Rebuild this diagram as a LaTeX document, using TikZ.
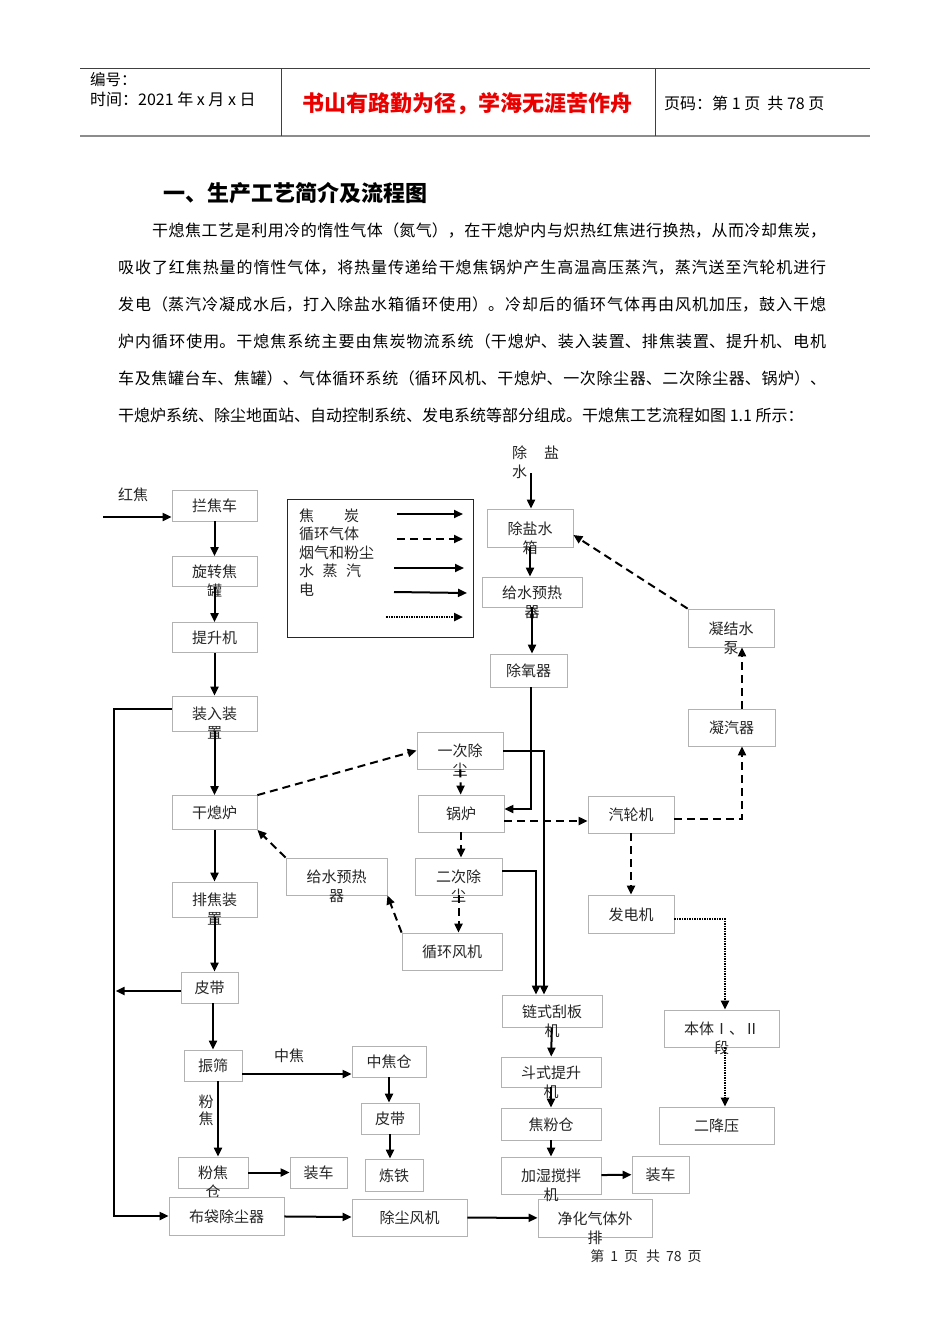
\documentclass[tikz,border=0pt]{standalone}
\usepackage{fontspec}
\setmainfont{Noto Sans CJK SC}
\usepackage{xcolor}
\usepackage{tikz}
\usetikzlibrary{shapes.geometric, arrows.meta}
\XeTeXlinebreaklocale "zh"
\XeTeXlinebreakskip=0pt plus 3pt
\definecolor{mottored}{RGB}{235,0,0}

\tikzstyle{box} = [rectangle,
draw=black!30,
line width=0.8pt,
inner sep=0pt,
text height=12pt,
text depth=0pt,
minimum width=86pt,
minimum height=37pt,
text=black!85,
font=\fontsize{15pt}{19pt}\selectfont]
\tikzstyle{lbl} = [inner sep=0pt,
text=black!85,
font=\fontsize{15pt}{17pt}\selectfont]
\tikzstyle{hdr} = [inner sep=0pt, anchor=west,
font=\fontsize{15.5pt}{18pt}\selectfont]
\tikzstyle{rule} = [black!75, line width=0.8pt]
\tikzstyle{arrow} = [line width=2pt,->,>={Triangle[length=9pt,width=8pt]}]
\tikzstyle{gas} = [arrow, dash pattern=on 8pt off 5pt]
\tikzstyle{power} = [arrow, line width=2.4pt, dash pattern=on 1.5pt off 1pt]

\newcommand{\twoline}[2]{\begin{tabular}[t]{@{}c@{}}#1\\#2\end{tabular}}

\begin{document}
\begin{tikzpicture}[x=1pt, y=-1pt, node distance=66pt]
\fill [white] (0,0) rectangle (950,1344);
\useasboundingbox (0,0) rectangle (950,1344);

% Page head
\draw [rule] (80,68) -- (870,68);
\draw [black!45, line width=1.8pt] (80,136) -- (870,136);
\draw [rule] (281,68) -- (281,136);
\draw [rule] (655,68) -- (655,136);
\node (bianhao) [hdr] at (90,80) {编号：};
\node (shijian) [hdr, font=\fontsize{16pt}{18pt}\selectfont] at (90,99) {时间：2021 年 x 月 x 日};
\node (motto) [inner sep=0pt, text=mottored, font=\fontsize{22pt}{26pt}\selectfont\bfseries] at (467.5,104) {书山有路勤为径，学海无涯苦作舟};
\node (yema) [hdr, font=\fontsize{16pt}{18pt}\selectfont] at (664,103) {页码：第 1 页 \ 共 78 页};

% Heading and text
\node (heading) [inner sep=0pt, anchor=west, font=\fontsize{22pt}{26pt}\selectfont\bfseries] at (163,193) {一、生产工艺简介及流程图};
\node (intro) [inner sep=0pt, anchor=north west, text width=708pt, align=justify,
  font=\fontsize{16pt}{37pt}\selectfont] at (118,223) {%
\hspace*{34pt}干熄焦工艺是利用冷的惰性气体（氮气），在干熄炉内与炽热红焦进行换热，从而冷却焦炭，\linebreak
吸收了红焦热量的惰性气体，将热量传递给干熄焦锅炉产生高温高压蒸汽，蒸汽送至汽轮机进行\linebreak
发电（蒸汽冷凝成水后，打入除盐水箱循环使用）。冷却后的循环气体再由风机加压，鼓入干熄\linebreak
炉内循环使用。干熄焦系统主要由焦炭物流系统（干熄炉、装入装置、排焦装置、提升机、电机\linebreak
车及焦罐台车、焦罐）、气体循环系统（循环风机、干熄炉、一次除尘器、二次除尘器、锅炉）、\linebreak
干熄炉系统、除尘地面站、自动控制系统、发电系统等部分组成。干熄焦工艺流程如图 1.1 所示：};

% Legend
\node (legend) [draw=black!85, line width=0.9pt, minimum width=186pt, minimum height=138pt, inner sep=0pt] at (380,568) {};
\node (legendtxt) [lbl, align=left, anchor=north west, font=\fontsize{15pt}{18.5pt}\selectfont] at (299,508.5)
  {焦　　炭\\循环气体\\烟气和粉尘\\水\hspace{8.5pt}蒸\hspace{8.5pt}汽\\电};
\coordinate (k1a) at (397,514); \coordinate (k1b) at (463,514);
\coordinate (k2a) at (397,539); \coordinate (k2b) at (463,539);
\coordinate (k3a) at (394,568); \coordinate (k3b) at (464,568);
\coordinate (k4a) at (394,592); \coordinate (k4b) at (467,593);
\coordinate (k5a) at (386,617); \coordinate (k5b) at (463,617);

% Nodes: coke line
\node (hongjiao) [lbl] at (133,495) {红焦};
\coordinate (hjin) at (103,517);
\node (lanjiao) [box, minimum width=85pt, minimum height=31pt] at (214.5,505.5) {拦焦车};
\node (xuanzhuan) [box, minimum width=85pt, minimum height=30pt, below of=lanjiao] {\twoline{旋转焦}{罐}};
\node (tisheng) [box, minimum width=85pt, minimum height=30pt, below of=xuanzhuan] {提升机};
\node (zhuangru) [box, minimum width=85pt, minimum height=35pt, below of=tisheng, yshift=-10pt] {\twoline{装入装}{置}};
\node (ganxilu) [box, minimum width=85pt, minimum height=34pt, below of=zhuangru, yshift=-33pt] {干熄炉};
\node (paijiao) [box, minimum width=85pt, minimum height=35pt, below of=ganxilu, yshift=-21pt] {\twoline{排焦装}{置}};
\node (pidai1) [box, minimum width=57pt, minimum height=31pt, below of=paijiao, xshift=-5pt, yshift=-22pt] {皮带};
\node (zhenshai) [box, minimum width=58pt, minimum height=31pt, below of=pidai1, xshift=3.5pt, yshift=-12pt] {振筛};
\node (fenjiaocang) [box, minimum width=70pt, minimum height=31pt, below of=zhenshai, yshift=-41pt] {\twoline{粉焦}{仓}};
\node (zhuangche1) [box, minimum width=57pt, minimum height=31pt, right of=fenjiaocang, xshift=39.5pt] {装车};
\node (budai) [box, minimum width=115pt, minimum height=38pt, below of=fenjiaocang, xshift=13.5pt, yshift=22.5pt] {布袋除尘器};
\node (chuchen) [box, minimum width=115pt, minimum height=37pt, right of=budai, xshift=117pt, yshift=-1.5pt] {除尘风机};
\node (jinghua) [box, minimum width=114pt, minimum height=38pt, right of=chuchen, xshift=119.5pt, yshift=-0.5pt] {\twoline{净化气体外}{排}};
\node (zhongjiaolbl) [lbl] at (289,1056) {中焦};
\node (fenjiaolbl) [lbl, align=center] at (206,1110.5) {粉\\焦};
\node (zhongjiao) [box, minimum width=74pt, minimum height=31pt] at (389,1061.5) {中焦仓};
\node (pidai2) [box, minimum width=58pt, minimum height=31pt, below of=zhongjiao, xshift=1pt, yshift=9pt] {皮带};
\node (liantie) [box, minimum width=58pt, minimum height=32pt, below of=pidai2, xshift=4pt, yshift=9.5pt] {炼铁};

% Nodes: gas loop
\node (yici) [box] at (460,750.5) {\twoline{一次除}{尘}};
\node (guolu) [box, below of=yici, xshift=1pt, yshift=3pt] {锅炉};
\node (erci) [box, minimum width=87pt, below of=guolu, xshift=-2.5pt, yshift=3pt] {\twoline{二次除}{尘}};
\node (xunhuan) [box, minimum width=100pt, below of=erci, xshift=-6.5pt, yshift=-9pt] {循环风机};
\node (geishui2) [box, minimum width=101pt, left of=erci, xshift=-56pt] {\twoline{给水预热}{器}};

% Nodes: water and steam
\node (cysl) [lbl, align=left, anchor=north west, font=\fontsize{15pt}{19pt}\selectfont] at (512,445.5) {除\hspace{17pt}盐\\水};
\coordinate (cysin) at (531,473);
\node (chuyan) [box, minimum height=38pt] at (530,528) {\twoline{除盐水}{箱}};
\node (geishui1) [box, minimum width=100pt, minimum height=30pt, below of=chuyan, xshift=2pt, yshift=2pt] {\twoline{给水预热}{器}};
\node (chuyang) [box, minimum width=77pt, minimum height=33pt, below of=geishui1, xshift=-3.5pt, yshift=-12.5pt] {除氧器};
\node (ningjie) [box, minimum height=38pt] at (731,628) {\twoline{凝结水}{泵}};
\node (ningqi) [box, minimum width=87pt, below of=ningjie, xshift=0.5pt, yshift=-33.5pt] {凝汽器};
\node (qilunji) [box] at (631,814.5) {汽轮机};
\node (fadian) [box, minimum height=38pt, below of=qilunji, yshift=-33.5pt] {发电机};
\node (benti) [box, minimum width=115pt] at (721.5,1028.5) {\twoline{本体Ⅰ、Ⅱ}{段}};
\node (erjiangya) [box, minimum width=115pt, below of=benti, xshift=-5pt, yshift=-31pt] {二降压};

% Nodes: dust line
\node (lianshi) [box, minimum width=100pt, minimum height=32pt] at (552,1011) {\twoline{链式刮板}{机}};
\node (doushi) [box, minimum width=100pt, minimum height=30pt, below of=lianshi, xshift=-1pt, yshift=5pt] {\twoline{斗式提升}{机}};
\node (jiaofen) [box, minimum width=100pt, minimum height=32pt, below of=doushi, yshift=14pt] {焦粉仓};
\node (jiashi) [box, minimum width=100pt, below of=jiaofen, yshift=14.5pt] {\twoline{加湿搅拌}{机}};
\node (zhuangche2) [box, minimum width=57pt, right of=jiashi, xshift=43.5pt, yshift=1pt] {装车};

\node (footer) [inner sep=0pt, text=black!85, font=\fontsize{14pt}{16pt}\selectfont] at (646,1256)
  {第\hspace{6pt}1\hspace{6pt}页\hspace{8pt}共\hspace{6pt}78\hspace{6pt}页};

% Arrows
\draw [arrow] (k1a) -- (k1b);
\draw [gas] (k2a) -- (k2b);
\draw [arrow] (k3a) -- (k3b);
\draw [arrow] (k4a) -- (k4b);
\draw [power] (k5a) -- (k5b);

\draw [arrow] (hjin) -- (hjin -| lanjiao.west);
\draw [arrow] (lanjiao) -- (xuanzhuan);
\draw [arrow] (xuanzhuan) -- (tisheng);
\draw [arrow] (tisheng) -- (zhuangru);
\draw [arrow] (zhuangru) -- (ganxilu);
\draw [arrow] (ganxilu) -- (paijiao);
\draw [arrow] (paijiao.south) -- (paijiao.south |- pidai1.north);
\draw [arrow] (zhenshai |- pidai1.south) -- (zhenshai.north);
\draw [arrow] ([yshift=-8.5pt]zhenshai.east) -- ([yshift=-8.5pt]zhenshai.east -| zhongjiao.west);
\draw [arrow] ([xshift=5pt]zhenshai.south) -- ([xshift=5pt]zhenshai.south |- fenjiaocang.north);
\draw [arrow] (fenjiaocang) -- (zhuangche1);
\draw [arrow] (zhongjiao.south) -- (zhongjiao.south |- pidai2.north);
\draw [arrow] (pidai2.south) -- (pidai2.south |- liantie.north);
\draw [arrow] (budai) -- (chuchen);
\draw [arrow] (chuchen) -- (jinghua);
\draw [arrow] ([yshift=5pt]zhuangru.west) -- ++(-58pt,0pt) |- (budai.west);
\draw [arrow] ([yshift=-3.5pt]pidai1.west) -- ++(-65pt,0pt);

\draw [gas] (ganxilu.north east) -- (yici.west);
\draw [gas] (yici) -- (guolu);
\draw [gas] (guolu.south) -- (guolu.south |- erci.north);
\draw [gas] (erci.south) -- (erci.south |- xunhuan.north);
\draw [gas] (xunhuan.north west) -- (geishui2.south east);
\draw [gas] (geishui2.north west) -- (ganxilu.south east);

\draw [arrow] (yici.east) -| ([xshift=-8pt]lianshi.north);
\draw [arrow] ([yshift=5.5pt]erci.east) -| ([xshift=-16pt]lianshi.north);
\draw [arrow] (lianshi) -- (doushi);
\draw [arrow] (doushi) -- (jiaofen);
\draw [arrow] (jiaofen) -- (jiashi);
\draw [arrow] (jiashi) -- (zhuangche2);

\draw [arrow] (cysin) -- (cysin |- chuyan.north);
\draw [arrow] (chuyan.south) -- (chuyan.south |- geishui1.north);
\draw [arrow] (geishui1.south) -- (geishui1.south |- chuyang.north);
\draw [arrow] ([xshift=2.5pt]chuyang.south) |- ([yshift=4.5pt]guolu.east);

\draw [gas] ([yshift=-7.5pt]guolu.east) -- ([yshift=-7.5pt]guolu.east -| qilunji.west);
\draw [gas] ([yshift=-4.5pt]qilunji.east) -| ([xshift=10.5pt]ningqi.south);
\draw [gas] ([xshift=10.5pt]ningqi.north) -- ([xshift=10.5pt]ningqi.north |- ningjie.south);
\draw [gas] (ningjie.north west) -- ([yshift=-7pt]chuyan.east);
\draw [gas] (qilunji) -- (fadian);

\draw [power] ([yshift=-5pt]fadian.east) -| ([xshift=3.5pt]benti.north);
\draw [power] ([xshift=3.5pt]benti.south) -- ([xshift=3.5pt]benti.south |- erjiangya.north);

\end{tikzpicture}
\end{document}
